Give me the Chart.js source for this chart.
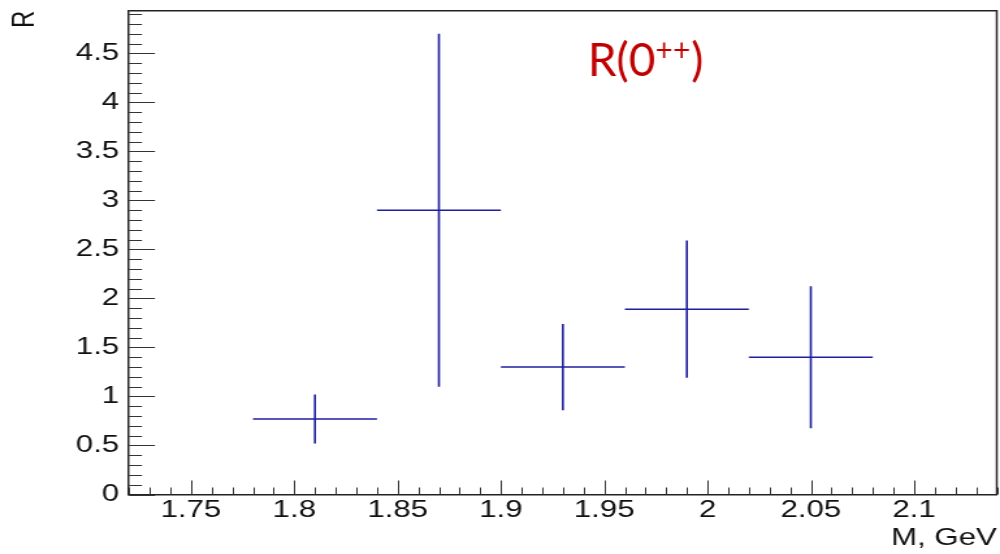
<!DOCTYPE html>
<html>
<head>
<meta charset="utf-8">
<script src="https://cdn.jsdelivr.net/npm/chart.js@4.4.1/dist/chart.umd.min.js"></script>
<style>
  html, body { margin: 0; padding: 0; background: #fff; }
</style>
</head>
<body>
<canvas id="plot" width="769" height="554" style="width:1000px;height:554px;display:block"></canvas>
<script>
// R(0++) vs M, one entry per bin
const binCenters = [1.81, 1.87, 1.93, 1.99, 2.05];
const binHalfWidths = [0.03, 0.03, 0.03, 0.03, 0.03];
const rValues = [0.77, 2.90, 1.30, 1.89, 1.40];
const rErrors = [0.25, 1.80, 0.44, 0.70, 0.725];

const xRange = [1.72, 2.14];
const yRange = [0, 4.935];
const xTickLabels = ['1.75', '1.8', '1.85', '1.9', '1.95', '2', '2.05', '2.1'];
const yTickLabels = ['0', '0.5', '1', '1.5', '2', '2.5', '3', '3.5', '4', '4.5'];

// the original picture is stretched sideways, so the canvas is too
const STRETCH = 1000 / 769;

// horizontal bars (bin width) and vertical bars (error), broken by nulls
const hLines = [];
const vLines = [];
for (let i = 0; i < binCenters.length; i++) {
  hLines.push({ x: binCenters[i] - binHalfWidths[i], y: rValues[i] });
  hLines.push({ x: binCenters[i] + binHalfWidths[i], y: rValues[i] });
  hLines.push({ x: binCenters[i], y: null });
  vLines.push({ x: binCenters[i], y: rValues[i] - rErrors[i] });
  vLines.push({ x: binCenters[i], y: rValues[i] + rErrors[i] });
  vLines.push({ x: binCenters[i], y: null });
}

const label = { x: 1.942, y: 4.27 };

const isMajorX = (v) => xTickLabels.includes(String(+Number(v).toFixed(2)));
const isMajorY = (v) => yTickLabels.includes(String(+Number(v).toFixed(1)));

// ROOT style: frame box, ticks pointing inwards, red label
const rootStyle = {
  id: 'rootStyle',
  afterDraw(chart) {
    const ctx = chart.ctx;
    const a = chart.chartArea;
    const xs = chart.scales.x;
    const ys = chart.scales.y;

    ctx.save();
    ctx.strokeStyle = '#222';
    ctx.lineWidth = 1.5;
    ctx.beginPath();
    ctx.moveTo(a.left, a.top);
    ctx.lineTo(a.right, a.top);
    ctx.lineTo(a.right, a.bottom);
    ctx.stroke();

    ctx.strokeStyle = '#333';
    ctx.lineWidth = 1;
    ctx.beginPath();
    ys.ticks.forEach((t, i) => {
      const py = Math.round(ys.getPixelForTick(i)) + 0.5;
      ctx.moveTo(a.left, py);
      ctx.lineTo(a.left + (isMajorY(t.value) ? 20 : 10), py);
    });
    xs.ticks.forEach((t, i) => {
      const px = Math.round(xs.getPixelForTick(i)) + 0.5;
      ctx.moveTo(px, a.bottom);
      ctx.lineTo(px, a.bottom - (isMajorX(t.value) ? 14 : 7));
    });
    ctx.stroke();
    ctx.restore();

    // red label, drawn unstretched
    const px = xs.getPixelForValue(label.x) * STRETCH;
    const py = ys.getPixelForValue(label.y);
    ctx.save();
    ctx.scale(1 / STRETCH, 1);
    ctx.fillStyle = '#c00000';
    ctx.textBaseline = 'alphabetic';
    ctx.font = '46px Lato';
    ctx.fillText('R(0', px, py);
    let w = ctx.measureText('R(0').width;
    ctx.font = '30px Lato';
    ctx.fillText('++', px + w, py - 15);
    w += ctx.measureText('++').width;
    ctx.font = '46px Lato';
    ctx.fillText(')', px + w + 1, py);
    ctx.restore();
  }
};

Chart.defaults.font.family = '"Liberation Sans", Arial, sans-serif';
Chart.defaults.font.size = 24;
Chart.defaults.color = '#111';

const lineStyle = {
  showLine: true,
  spanGaps: false,
  borderColor: '#1f1fa0',
  borderWidth: 1.6,
  pointRadius: 0,
  pointHoverRadius: 0
};

new Chart(document.getElementById('plot'), {
  type: 'scatter',
  data: {
    datasets: [
      Object.assign({ data: hLines }, lineStyle),
      Object.assign({ data: vLines }, lineStyle)
    ]
  },
  options: {
    responsive: false,
    animation: false,
    devicePixelRatio: 1,
    layout: { padding: { top: 10.7, right: 2.5, bottom: 0, left: 0 } },
    plugins: { legend: { display: false }, tooltip: { enabled: false } },
    scales: {
      x: {
        type: 'linear',
        min: xRange[0],
        max: xRange[1],
        afterFit: (scale) => {
          scale.height = 59.5;
          scale.paddingLeft = 0;
          scale.paddingRight = 0;
        },
        border: { display: true, color: '#222', width: 1.5 },
        grid: { display: false, drawTicks: false },
        ticks: {
          stepSize: 0.01,
          precision: 2,
          includeBounds: false,
          autoSkip: false,
          maxRotation: 0,
          minRotation: 0,
          padding: 1,
          callback: (v) => isMajorX(v) ? String(+Number(v).toFixed(2)) : ''
        },
        title: {
          display: true,
          text: 'M, GeV',
          align: 'end',
          padding: { top: 0, bottom: 1 },
          font: { size: 24 },
          color: '#111'
        }
      },
      y: {
        type: 'linear',
        min: yRange[0],
        max: yRange[1],
        afterFit: (scale) => {
          scale.width = 99.2;
          scale.paddingTop = 0;
          scale.paddingBottom = 0;
        },
        border: { display: true, color: '#222', width: 1.5 },
        grid: { display: false, drawTicks: false },
        ticks: {
          stepSize: 0.1,
          precision: 1,
          includeBounds: false,
          autoSkip: false,
          padding: 7.5,
          callback: (v) => isMajorY(v) ? String(+Number(v).toFixed(1)) : ''
        },
        title: {
          display: true,
          text: 'R',
          align: 'end',
          padding: { top: 5, bottom: 0 },
          font: { size: 24 },
          color: '#111'
        }
      }
    }
  },
  plugins: [rootStyle]
});
</script>
</body>
</html>
